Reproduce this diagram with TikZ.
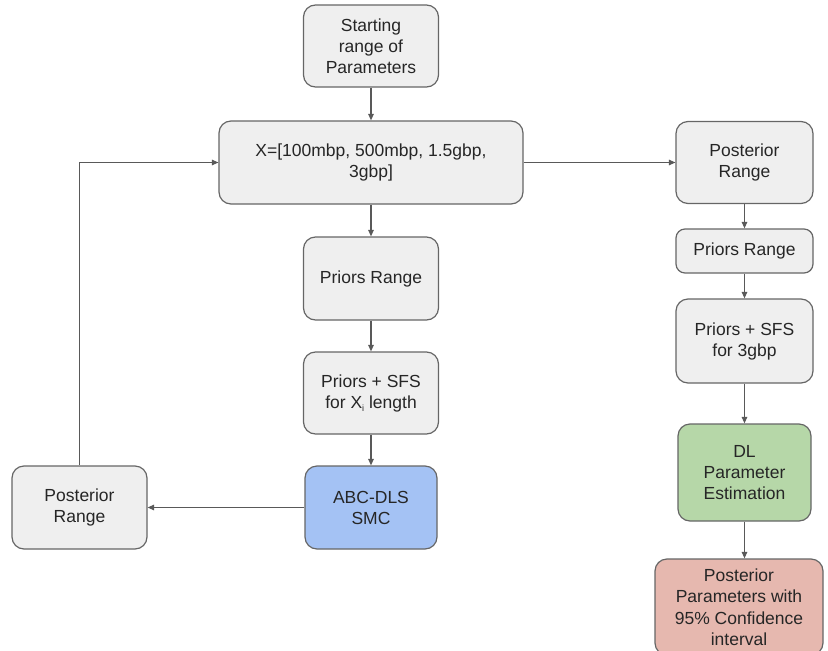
\documentclass[tikz,border=0pt]{standalone}
\usepackage{fontspec}
\setmainfont{Liberation Sans}
\usetikzlibrary{arrows.meta}
\definecolor{boxgrey}{HTML}{EFEFEF}
\definecolor{edgegrey}{HTML}{666666}
\definecolor{lineg}{HTML}{595959}
\definecolor{boxblue}{HTML}{A4C2F4}
\definecolor{boxgreen}{HTML}{B6D7A8}
\definecolor{boxred}{HTML}{E6B8AF}
\definecolor{txt}{HTML}{262626}
\newcommand{\lowsub}[1]{\raisebox{-3.5pt}{\fontsize{9pt}{9pt}\selectfont #1}}
\begin{document}
\begin{tikzpicture}[x=1pt,y=-1pt,
  box/.style={draw=edgegrey, line width=1.2pt, fill=boxgrey, rounded corners=12pt,
    align=center, text=txt, font=\fontsize{17.5pt}{21pt}\selectfont, inner sep=2pt},
  arr/.style={draw=lineg, line width=1.2pt, -{Triangle[length=6.5pt,width=5.5pt]}}]
\useasboundingbox (0,0) rectangle (828,651);
\node[box, minimum width=135pt, minimum height=82pt] (start) at (371,46) {Starting\\range of\\Parameters};
\node[box, minimum width=304pt, minimum height=83pt] (X) at (371,162.5) {X=[100mbp, 500mbp, 1.5gbp,\\3gbp]};
\node[box, minimum width=135pt, minimum height=83pt] (pr) at (371,278.5) {Priors Range};
\node[box, minimum width=135pt, minimum height=82pt] (ps) at (371,393) {Priors + SFS\\for X\lowsub{i} length};
\node[box, fill=boxblue, minimum width=132pt, minimum height=83pt] (abc) at (371,507.5) {ABC-DLS\\SMC};
\node[box, minimum width=135pt, minimum height=83pt] (postL) at (79.5,507.5) {Posterior\\Range};
\node[box, minimum width=137pt, minimum height=82pt] (postR) at (744.5,162.5) {Posterior\\Range};
\node[box, rounded corners=9pt, minimum width=137pt, minimum height=44pt] (prR) at (744.5,251) {Priors Range};
\node[box, minimum width=137pt, minimum height=84pt] (psR) at (744.5,341) {Priors + SFS\\for 3gbp};
\node[box, fill=boxgreen, minimum width=133pt, minimum height=97pt] (dl) at (744.5,472.5) {DL\\Parameter\\Estimation};
\node[box, fill=boxred, minimum width=168pt, minimum height=96pt, font=\fontsize{17.5pt}{21.5pt}\selectfont] (red) at (739,607) {Posterior\\Parameters with\\95\% Confidence\\interval};
\draw[arr] (start) -- (X);
\draw[arr] (X) -- (pr);
\draw[arr] (pr) -- (ps);
\draw[arr] (ps) -- (abc);
\draw[arr] (abc) -- (postL);
\draw[arr] (postL.north) |- (X.west);
\draw[arr] (X) -- (postR);
\draw[arr] (postR) -- (prR);
\draw[arr] (prR) -- (psR);
\draw[arr] (psR) -- (dl);
\draw[arr] (dl.south) -- (dl.south |- red.north);
\end{tikzpicture}
\end{document}
